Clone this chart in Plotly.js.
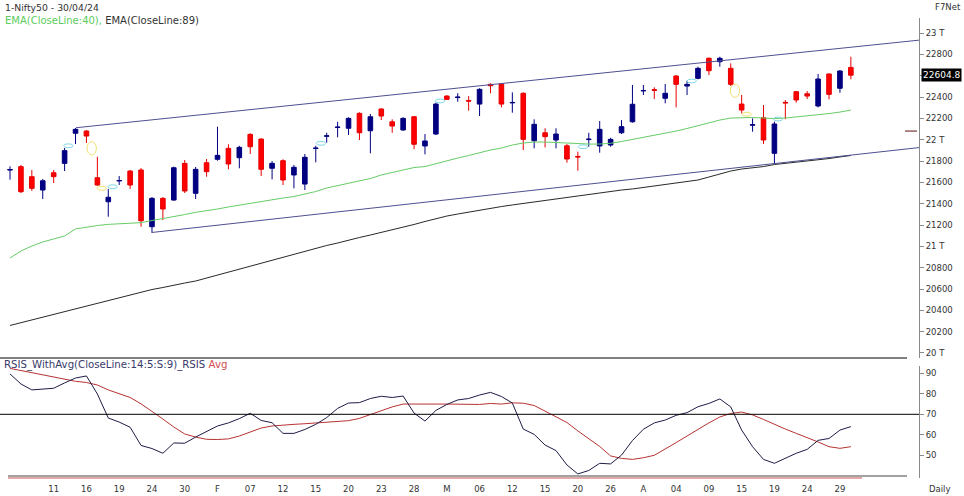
<!DOCTYPE html>
<html>
<head>
<meta charset="utf-8">
<script src="https://cdn.plot.ly/plotly-3.0.1.min.js"></script>
<style>html,body{margin:0;padding:0;background:#fff;}#chart{width:964px;height:496px;}</style>
</head>
<body>
<div id="chart"></div>
<script>
// ---- trading dates (x categories) ----
const dates = [
 "2024-01-05","2024-01-08","2024-01-09","2024-01-10","2024-01-11","2024-01-12","2024-01-15","2024-01-16","2024-01-17","2024-01-18",
 "2024-01-19","2024-01-20","2024-01-23","2024-01-24","2024-01-25","2024-01-29","2024-01-30","2024-01-31",
 "2024-02-01","2024-02-02","2024-02-05","2024-02-06","2024-02-07","2024-02-08","2024-02-09","2024-02-12","2024-02-13","2024-02-14",
 "2024-02-15","2024-02-16","2024-02-19","2024-02-20","2024-02-21","2024-02-22","2024-02-23","2024-02-26","2024-02-27","2024-02-28","2024-02-29",
 "2024-03-01","2024-03-02","2024-03-04","2024-03-05","2024-03-06","2024-03-07","2024-03-11","2024-03-12","2024-03-13","2024-03-14",
 "2024-03-15","2024-03-18","2024-03-19","2024-03-20","2024-03-21","2024-03-22","2024-03-26","2024-03-27","2024-03-28",
 "2024-04-01","2024-04-02","2024-04-03","2024-04-04","2024-04-05","2024-04-08","2024-04-09","2024-04-10","2024-04-12","2024-04-15",
 "2024-04-16","2024-04-18","2024-04-19","2024-04-22","2024-04-23","2024-04-24","2024-04-25","2024-04-26","2024-04-29","2024-04-30"
];

// ---- OHLC ----
const open = [21715,21747,21653,21528,21690,21778,22060,22081,21643,21418,
 21613,21706,21716,21184,21450,21434,21778,21497,
 21784,21816,21919,21831,22050,22006,21732,21803,21669,21584,21917,22032,22114,22107,22247,22084,22288,22168,22091,22215,21941,
 22053,22409,22395,22368,22334,22519,22522,22345,22435,21990,22065,21997,21943,21843,22001,21941,21950,22065,
 22168,22457,22469,22388,22597,22503,22575,22763,22731,22669,22334,22136,22206,21872,22350,22450,22431,22316,22616,22482,22678];
const high = [21750,21763,21716,21631,21716,21922,22109,22091,21840,21538,
 21659,21716,21734,21462,21462,21747,21809,21744,
 21819,22122,21957,21943,22060,22013,21800,21816,21763,21866,21943,22065,22168,22210,22257,22241,22294,22191,22210,22222,22053,
 22347,22419,22435,22409,22482,22528,22528,22444,22444,22191,22107,22107,21959,21887,22065,22175,22018,22184,
 22513,22513,22491,22522,22606,22553,22684,22772,22778,22716,22419,22200,22325,22169,22372,22456,22456,22616,22622,22653,22778];
const low = [21625,21500,21519,21444,21594,21706,21959,21969,21566,21278,
 21575,21538,21184,21128,21247,21428,21500,21444,
 21653,21803,21722,21732,21866,21659,21628,21575,21544,21528,21788,21972,22022,22044,21997,21872,22184,22065,22084,21910,21863,
 22044,22372,22356,22272,22222,22435,22303,22253,21903,21919,21928,21919,21784,21709,21934,21878,21934,22053,
 22159,22419,22381,22341,22303,22419,22566,22606,22684,22503,22247,22075,21959,21772,22191,22347,22381,22303,22378,22440,22566];
const close = [21720,21512,21544,21615,21653,21897,22097,22034,21575,21460,
 21617,21575,21240,21450,21350,21737,21519,21722,
 21700,21853,21772,21928,21934,21722,21778,21622,21741,21835,21921,22036,22118,22200,22065,22215,22222,22128,22200,21957,21988,
 22334,22378,22399,22362,22472,22506,22334,22349,22003,22144,22028,22053,21819,21838,22005,22097,22003,22122,
 22332,22461,22463,22435,22519,22519,22669,22647,22763,22519,22278,22140,21997,22147,22345,22372,22409,22569,22425,22644,22604.8];

// ---- moving averages ----
const ema40 = [20891,20956,21003,21041,21069,21097,21163,21181,21195,21206,21212,21217,21222,21242,21260,21275,21298,21319,
 21331,21350,21369,21387,21402,21416,21434,21453,21467,21491,21514,21547,21570,21594,21613,21636,21669,21692,21716,21739,21748,
 21777,21805,21828,21852,21880,21903,21922,21950,21969,21978,21978,21973,21964,21959,21959,21959,21966,21983,
 22002,22020,22039,22058,22081,22105,22133,22161,22184,22203,22208,22208,22203,22198,22203,22213,22222,22231,22245,22259,22278];
const ema89 = [20258,20284,20309,20338,20366,20394,20417,20441,20469,20497,20520,20544,20572,20595,20614,20638,20656,20675,
 20703,20731,20759,20788,20816,20844,20872,20900,20928,20956,20984,21008,21031,21059,21083,21106,21130,21153,21181,21205,21233,
 21261,21284,21303,21322,21341,21359,21373,21388,21402,21420,21434,21448,21463,21477,21486,21500,21514,21528,
 21538,21552,21566,21575,21589,21608,21622,21650,21678,21706,21725,21734,21748,21767,21777,21791,21800,21809,21823,21838,21852];

// ---- RSI panel ----
const rsi = [89.7,84.8,81.9,82.2,82.7,85.3,87.7,88.7,79.9,68.2,66.2,63.7,54.8,53.3,51.0,56.0,55.9,58.9,
 61.4,64.3,65.8,67.9,70.5,67.0,65.9,60.7,60.7,62.6,65.1,68.4,72.9,75.5,75.7,77.7,78.8,78.2,78.9,70.6,66.7,
 71.9,74.8,77.0,77.7,79.4,80.7,78.7,75.5,62.8,60.2,55.0,52.3,45.3,40.9,42.6,46.1,45.8,50.1,
 57.2,62.7,65.8,67.2,69.5,70.8,73.7,75.3,77.5,73.6,62.3,54.2,48.0,46.1,48.4,51.0,52.9,57.3,58.2,62.3,64.0];
const rsiAvg = [92.4,91.4,90.4,89.4,88.2,87.2,86.1,85.5,84.3,81.9,80.1,78.2,75.1,71.6,67.7,63.8,60.4,58.9,
 57.8,57.7,58.0,59.4,61.4,63.3,64.3,64.8,65.1,65.4,65.8,66.2,66.6,66.9,68.0,69.9,71.6,73.6,75.0,74.9,74.9,
 75.0,75.0,75.0,75.0,74.8,75.3,75.0,75.6,75.4,74.3,71.6,68.9,66.0,61.9,58.1,54.3,49.7,48.5,
 48.0,48.8,50.0,52.9,56.2,59.4,62.8,65.8,68.7,70.4,71.1,69.7,67.5,65.0,62.8,60.7,58.7,56.5,54.2,53.4,54.2];
const rsiLevel = 70;

// ---- axis ticks ----
const xTickDates = ["2024-01-11","2024-01-16","2024-01-19","2024-01-24","2024-01-30","2024-02-02","2024-02-07","2024-02-12","2024-02-15",
 "2024-02-20","2024-02-23","2024-02-28","2024-03-02","2024-03-06","2024-03-12","2024-03-15","2024-03-20","2024-03-26","2024-04-01",
 "2024-04-04","2024-04-09","2024-04-15","2024-04-19","2024-04-24","2024-04-29"];
const xTickLabels = ["11","16","19","24","30","F","07","12","15","20","23","28","M","06","12","15","20","26","A","04","09","15","19","24","29"];
const yTickVals = [20000,20200,20400,20600,20800,21000,21200,21400,21600,21800,22000,22200,22400,22600,22800,23000];
const yTickLabels = ["20 T","20200","20400","20600","20800","21 T","21200","21400","21600","21800","22 T","22200","22400","","22800","23 T"];
const rsiTickVals = [50,60,70,80,90];
const lastPrice = 22604.8;

// ---- trendlines (category index, price) ----
const upperTrend = [[6.04, 22112], [83.3, 22934]];
const lowerTrend = [[12.98, 21130], [83.33, 21927]];

// ---- signal ellipses ----
const sigIdx   = [5.34, 7.48, 8.40, 9.40, 28.48, 39.38, 52.47, 62.43, 66.39, 67.46, 70.33];
const sigPrice = [21943, 21919, 21544, 21559, 21966, 22363, 21934, 22550, 22459, 22238, 22194];
const sigColor = ["#7fd8e8","#f0e070","#f0e070","#7fd8e8","#7fd8e8","#7fd8e8","#7fd8e8","#7fd8e8","#f0e070","#f0e070","#7fd8e8"];
const sigBig   = [0,1,0,0,0,0,0,0,1,0,0];

const FONT = "DejaVu Sans";
const fs = 8.5;

const traces = [
  {type:'scatter', mode:'lines', x:dates, y:ema40, line:{color:'#66cc66', width:1}, hoverinfo:'skip', xaxis:'x', yaxis:'y'},
  {type:'scatter', mode:'lines', x:dates, y:ema89, line:{color:'#111111', width:0.9}, hoverinfo:'skip', xaxis:'x', yaxis:'y'},
  {type:'candlestick', x:dates, open:open, high:high, low:low, close:close, xaxis:'x', yaxis:'y',
   whiskerwidth:0,
   increasing:{line:{color:'#000080', width:1}, fillcolor:'#000080'},
   decreasing:{line:{color:'#e60000', width:1}, fillcolor:'#ff0000'}},
  {type:'scatter', mode:'lines', x:dates, y:rsiAvg, line:{color:'#b83232', width:1}, hoverinfo:'skip', xaxis:'x', yaxis:'y2'},
  {type:'scatter', mode:'lines', x:dates, y:rsi, line:{color:'#1d1d48', width:1}, hoverinfo:'skip', xaxis:'x', yaxis:'y2'}
];

const H = 460, T = 18, W = 919;
const py = Y => (478 - Y) / H;   // pixel row -> paper y
const px = X => X / W;           // pixel col -> paper x

const shapes = [];
[upperTrend, lowerTrend].forEach(t => shapes.push({type:'line', xref:'x', yref:'y', x0:t[0][0], y0:t[0][1], x1:t[1][0], y1:t[1][1],
  line:{color:'#4f4f92', width:1}}));
sigIdx.forEach((xi, k) => {
  const hw = 0.43, hh = sigBig[k] ? 62 : 18;
  shapes.push({type:'circle', xref:'x', yref:'y', x0:xi-hw, x1:xi+hw, y0:sigPrice[k]-hh, y1:sigPrice[k]+hh,
    line:{color:sigColor[k], width:1}});
});
shapes.push({type:'line', xref:'paper', yref:'y2', x0:0, x1:1, y0:rsiLevel, y1:rsiLevel, line:{color:'#000', width:1}});
shapes.push({type:'line', xref:'paper', yref:'paper', x0:px(0), x1:px(907), y0:py(358), y1:py(358), line:{color:'#000', width:1}});
shapes.push({type:'line', xref:'paper', yref:'paper', x0:px(8), x1:px(907), y0:py(476), y1:py(476), line:{color:'#444', width:1}});
shapes.push({type:'line', xref:'paper', yref:'paper', x0:px(8), x1:px(862), y0:py(478), y1:py(478), line:{color:'#c85050', width:1}});
shapes.push({type:'line', xref:'paper', yref:'y', x0:px(905), x1:px(917), y0:22081, y1:22081, line:{color:'#5a1010', width:1}});

const annotations = [
  {xref:'paper', yref:'paper', x:px(3), y:py(7), xanchor:'left', yanchor:'middle', showarrow:false,
   text:'1-Nifty50 - 30/04/24', font:{family:FONT, size:9.3, color:'#333'}},
  {xref:'paper', yref:'paper', x:px(3), y:py(20.5), xanchor:'left', yanchor:'middle', showarrow:false,
   text:'<span style="color:#5ccc5c">EMA(CloseLine:40), </span>EMA(CloseLine:89)', font:{family:FONT, size:10, color:'#333'}},
  {xref:'paper', yref:'paper', x:px(933), y:py(7), xanchor:'left', yanchor:'middle', showarrow:false,
   text:'F7Net', font:{family:FONT, size:fs, color:'#333'}},
  {xref:'paper', yref:'paper', x:px(2), y:py(365), xanchor:'left', yanchor:'middle', showarrow:false,
   text:'RSIS_WithAvg(CloseLine:14:5:S:9)_RSIS <span style="color:#d05050">Avg</span>', font:{family:FONT, size:10.2, color:'#3a3a6a'}},
  {xref:'paper', yref:'paper', x:px(927), y:py(488.5), xanchor:'left', yanchor:'middle', showarrow:false,
   text:'Daily', font:{family:FONT, size:fs, color:'#333'}},
  {xref:'paper', yref:'y', x:1, xshift:2, y:lastPrice, xanchor:'left', yanchor:'middle', showarrow:false,
   text:String(lastPrice), bgcolor:'#000', borderpad:1, font:{family:FONT, size:9, color:'#fff'}}
];

const layout = {
  width:964, height:496,
  margin:{l:0, r:45, t:T, b:18, pad:0},
  paper_bgcolor:'#fff', plot_bgcolor:'#fff',
  showlegend:false, dragmode:false, hovermode:false,
  boxgap:0.4,
  xaxis:{type:'category', categoryorder:'array', categoryarray:dates, range:[-0.916, 83.24], anchor:'y2',
    rangeslider:{visible:false}, showgrid:false, zeroline:false, showline:false,
    tickmode:'array', tickvals:xTickDates, ticktext:xTickLabels, ticks:'outside', ticklen:3, tickcolor:'rgba(0,0,0,0)',
    tickfont:{family:FONT, size:fs, color:'#333'}},
  yaxis:{domain:[py(358), 1], range:[19953, 23141], side:'right', anchor:'x', showgrid:false, zeroline:false,
    showline:true, linecolor:'#8a8a8a', linewidth:1, ticks:'outside', ticklen:4, tickcolor:'#8a8a8a',
    tickmode:'array', tickvals:yTickVals, ticktext:yTickLabels, tickfont:{family:FONT, size:fs, color:'#333'}},
  yaxis2:{domain:[0, py(366)], range:[38.93, 93.56], side:'right', anchor:'x', showgrid:false, zeroline:false,
    showline:true, linecolor:'#8a8a8a', linewidth:1, ticks:'outside', ticklen:4, tickcolor:'#8a8a8a',
    tickmode:'array', tickvals:rsiTickVals, tickfont:{family:FONT, size:fs, color:'#333'}},
  shapes:shapes, annotations:annotations
};

Plotly.newPlot('chart', traces, layout, {staticPlot:true, displayModeBar:false});
</script>
</body>
</html>
